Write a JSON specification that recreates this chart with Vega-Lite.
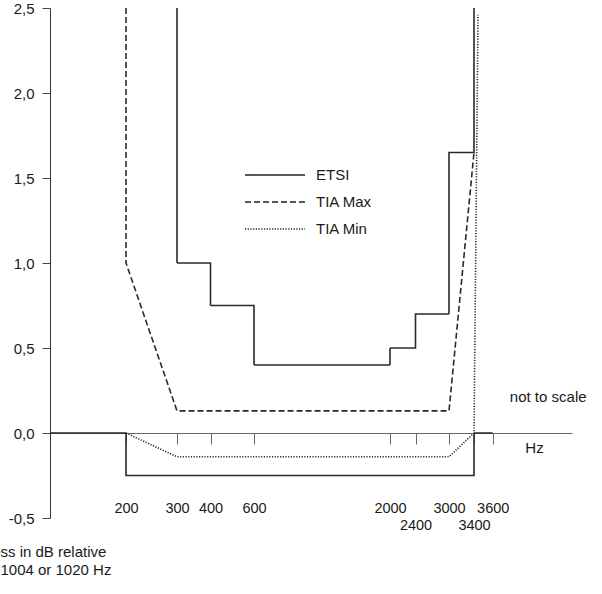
{
  "$schema": "https://vega.github.io/schema/vega-lite/v6.json",
  "width": 522,
  "height": 510,
  "autosize": {"type": "none"},
  "padding": {"left": 50, "top": 8, "right": 30, "bottom": 76},
  "background": "white",
  "config": {"view": {"stroke": null}, "font": "Liberation Sans", "axis": {"grid": false}},
  "layer": [
    {
      "data": {
        "values": [
          {"series": "ETSI", "part": "ETSI_a", "i": 1, "hz": 300, "db": 2.5},
          {"series": "ETSI", "part": "ETSI_a", "i": 2, "hz": 300, "db": 1.0},
          {"series": "ETSI", "part": "ETSI_a", "i": 3, "hz": 400, "db": 1.0},
          {"series": "ETSI", "part": "ETSI_a", "i": 4, "hz": 400, "db": 0.75},
          {"series": "ETSI", "part": "ETSI_a", "i": 5, "hz": 600, "db": 0.75},
          {"series": "ETSI", "part": "ETSI_a", "i": 6, "hz": 600, "db": 0.4},
          {"series": "ETSI", "part": "ETSI_a", "i": 7, "hz": 2000, "db": 0.4},
          {"series": "ETSI", "part": "ETSI_a", "i": 8, "hz": 2000, "db": 0.5},
          {"series": "ETSI", "part": "ETSI_a", "i": 9, "hz": 2400, "db": 0.5},
          {"series": "ETSI", "part": "ETSI_a", "i": 10, "hz": 2400, "db": 0.7},
          {"series": "ETSI", "part": "ETSI_a", "i": 11, "hz": 3000, "db": 0.7},
          {"series": "ETSI", "part": "ETSI_a", "i": 12, "hz": 3000, "db": 1.65},
          {"series": "ETSI", "part": "ETSI_a", "i": 13, "hz": 3400, "db": 1.65},
          {"series": "ETSI", "part": "ETSI_a", "i": 14, "hz": 3400, "db": 2.5},
          {"series": "ETSI", "part": "ETSI_b", "i": 1, "hz": 0, "db": 0},
          {"series": "ETSI", "part": "ETSI_b", "i": 2, "hz": 200, "db": 0},
          {"series": "ETSI", "part": "ETSI_b", "i": 3, "hz": 200, "db": -0.25},
          {"series": "ETSI", "part": "ETSI_b", "i": 4, "hz": 3400, "db": -0.25},
          {"series": "ETSI", "part": "ETSI_b", "i": 5, "hz": 3400, "db": 0},
          {"series": "ETSI", "part": "ETSI_b", "i": 6, "hz": 3600, "db": 0},
          {"series": "TIA Max", "part": "TIAMax", "i": 1, "hz": 200, "db": 2.5},
          {"series": "TIA Max", "part": "TIAMax", "i": 2, "hz": 200, "db": 1.0},
          {"series": "TIA Max", "part": "TIAMax", "i": 3, "hz": 300, "db": 0.13},
          {"series": "TIA Max", "part": "TIAMax", "i": 4, "hz": 3000, "db": 0.13},
          {"series": "TIA Max", "part": "TIAMax", "i": 5, "hz": 3400, "db": 1.65},
          {"series": "TIA Min", "part": "TIAMin", "i": 1, "hz": 200, "db": 0},
          {"series": "TIA Min", "part": "TIAMin", "i": 2, "hz": 300, "db": -0.14},
          {"series": "TIA Min", "part": "TIAMin", "i": 3, "hz": 3000, "db": -0.14},
          {"series": "TIA Min", "part": "TIAMin", "i": 4, "hz": 3400, "db": 0},
          {"series": "TIA Min", "part": "TIAMin", "i": 5, "hz": 3443, "db": 2.46}
        ]
      },
      "mark": {"type": "line", "strokeWidth": 1.6, "color": "#2a2a2a", "strokeCap": "butt"},
      "encoding": {
        "x": {
          "field": "hz",
          "type": "quantitative",
          "scale": {
            "domain": [0, 200, 300, 400, 600, 2000, 2400, 3000, 3400, 3600, 4000],
            "range": [0, 76, 127, 160.5, 204, 340, 365.5, 399, 424, 442.7, 522],
            "nice": false,
            "zero": false
          },
          "axis": {
            "orient": "bottom",
            "offset": -85,
            "values": [200, 300, 400, 600, 2000, 2400, 3000, 3400, 3600],
            "format": "d",
            "labelExpr": "(datum.value == 2400 || datum.value == 3400) ? ['', datum.label] : datum.label",
            "labelBaseline": "top",
            "labelLineHeight": 17,
            "labelPadding": 57,
            "labelFontSize": 14.5,
            "labelColor": "#1a1a1a",
            "labelOverlap": false,
            "labelFlush": false,
            "tickSize": 11,
            "tickColor": "#666",
            "domainColor": "#666",
            "title": "Hz",
            "titleX": 484,
            "titleY": 14,
            "titleAlign": "center",
            "titleBaseline": "middle",
            "titleFontSize": 15,
            "titleFontWeight": "normal",
            "titleColor": "#1a1a1a"
          }
        },
        "y": {
          "field": "db",
          "type": "quantitative",
          "scale": {"domain": [-0.5, 2.5], "nice": false, "zero": false},
          "axis": {
            "values": [-0.5, 0, 0.5, 1, 1.5, 2, 2.5],
            "labelExpr": "replace(replace(format(datum.value, '.1f'), '.', ','), '\u2212', '-')",
            "labelFontSize": 15,
            "labelColor": "#1a1a1a",
            "labelPadding": 8,
            "tickSize": 8,
            "tickColor": "#444",
            "domainColor": "#333",
            "title": ["Loss in dB relative", "to 1004 or 1020 Hz"],
            "titleAngle": 0,
            "titleX": -66.7,
            "titleY": 548,
            "titleAlign": "left",
            "titleBaseline": "alphabetic",
            "titleLineHeight": 18,
            "titleFontSize": 15,
            "titleFontWeight": "normal",
            "titleColor": "#1a1a1a"
          }
        },
        "detail": {"field": "part"},
        "order": {"field": "i", "type": "quantitative"},
        "strokeDash": {
          "field": "series",
          "type": "nominal",
          "scale": {"domain": ["ETSI", "TIA Max", "TIA Min"], "range": [[1, 0], [6, 3], [1.2, 1.5]]},
          "legend": {
            "orient": "none",
            "legendX": 214,
            "legendY": 156,
            "title": null,
            "padding": 0,
            "symbolType": "M-3,0H3",
            "symbolSize": 400,
            "symbolStrokeWidth": 1.3,
            "symbolStrokeColor": "#222",
            "labelOffset": 30,
            "labelFontSize": 15,
            "labelColor": "#1a1a1a",
            "rowPadding": 8
          }
        }
      }
    },
    {
      "data": {"values": [{"note": "not to scale", "hz": 3880, "db": 0.21}]},
      "mark": {"type": "text", "fontSize": 15, "align": "center", "baseline": "middle", "color": "#1a1a1a"},
      "encoding": {
        "x": {"field": "hz", "type": "quantitative"},
        "y": {"field": "db", "type": "quantitative"},
        "text": {"field": "note"}
      }
    }
  ]
}
